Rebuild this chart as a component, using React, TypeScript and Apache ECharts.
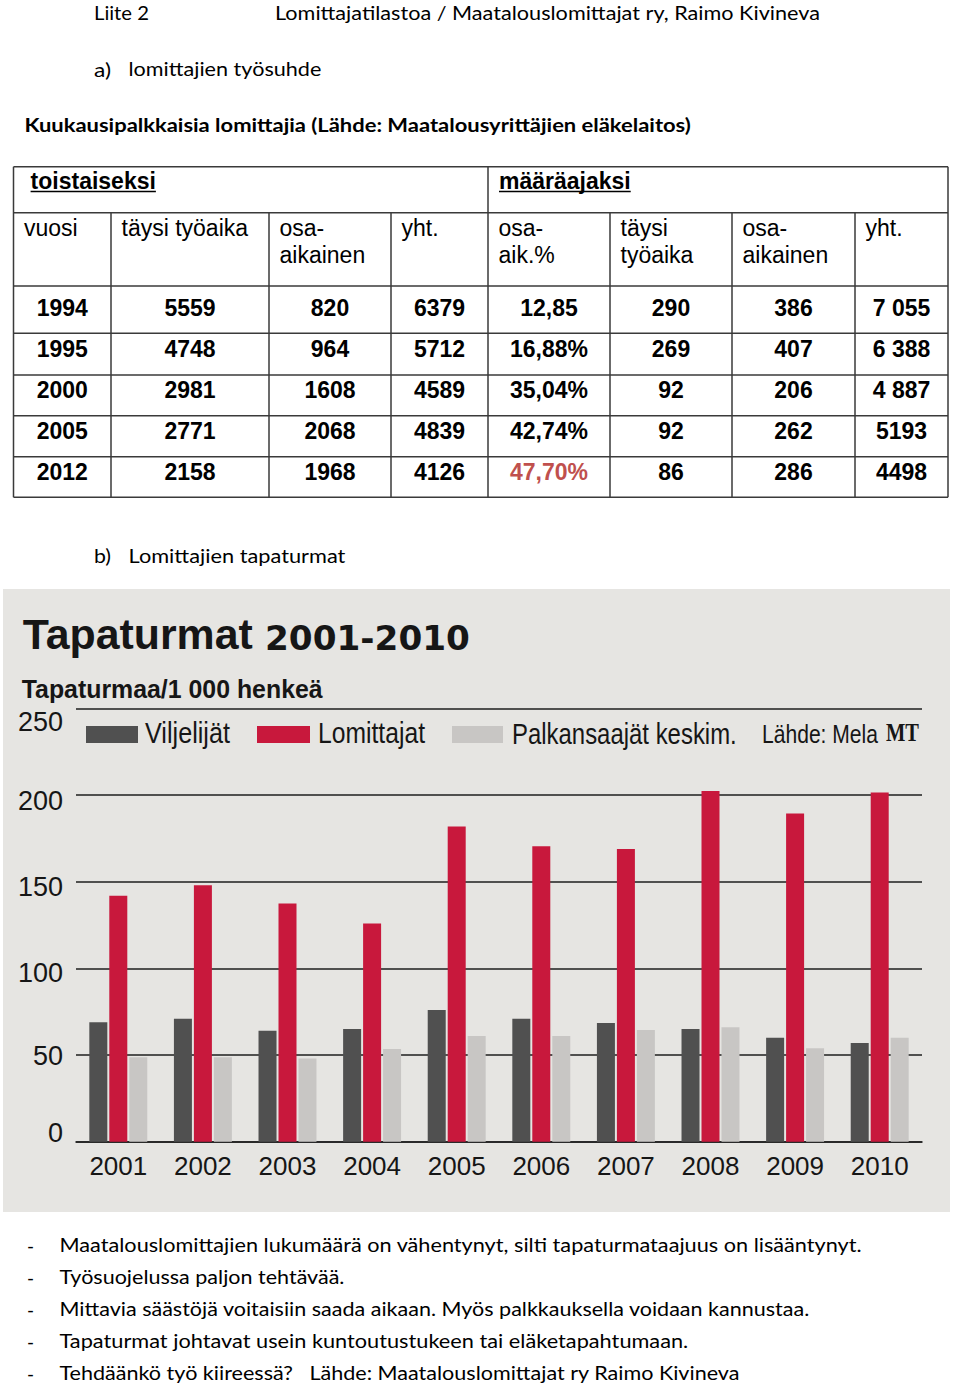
import React, { useEffect, useRef } from 'react';
import * as echarts from 'echarts';

// ---------- Chart data (Tapaturmat 2001-2010, tapaturmaa / 1 000 henkeä) ----------
const chartYears = ['2001', '2002', '2003', '2004', '2005', '2006', '2007', '2008', '2009', '2010'];
const viljelijat = [69, 71, 64, 65, 76, 71, 68.5, 65, 60, 57];
const lomittajat = [142, 148, 137.5, 126, 182, 170.5, 169, 202.5, 189.5, 201.5];
const palkansaajat = [48.7, 48.7, 48, 53.5, 61, 61, 64.5, 66, 54, 60];
const seriesNames = ['Viljelijät', 'Lomittajat', 'Palkansaajät keskim.'];

// ---------- Table data (Kuukausipalkkaisia lomittajia) ----------
const groupHeaders = ['toistaiseksi', 'määräajaksi'];
const columnHeaders = [
  ['vuosi'],
  ['täysi työaika'],
  ['osa-', 'aikainen'],
  ['yht.'],
  ['osa-', 'aik.%'],
  ['täysi', 'työaika'],
  ['osa-', 'aikainen'],
  ['yht.'],
];
const tableYears = ['1994', '1995', '2000', '2005', '2012'];
const taysiToist = ['5559', '4748', '2981', '2771', '2158'];
const osaToist = ['820', '964', '1608', '2068', '1968'];
const yhtToist = ['6379', '5712', '4589', '4839', '4126'];
const osaPct = ['12,85', '16,88%', '35,04%', '42,74%', '47,70%'];
const taysiMaar = ['290', '269', '92', '92', '86'];
const osaMaar = ['386', '407', '206', '262', '286'];
const yhtMaar = ['7 055', '6 388', '4 887', '5193', '4498'];

const bullets = [
  'Maatalouslomittajien lukumäärä on vähentynyt, silti tapaturmataajuus on lisääntynyt.',
  'Työsuojelussa paljon tehtävää.',
  'Mittavia säästöjä voitaisiin saada aikaan. Myös palkkauksella voidaan kannustaa.',
  'Tapaturmat johtavat usein kuntoutustukeen tai eläketapahtumaan.',
  'Tehdäänkö työ kiireessä?   Lähde: Maatalouslomittajat ry Raimo Kivineva',
];

// ---------- layout helpers ----------
const DOC_FONT = 'Lato';
const TAB_FONT = 'Liberation Sans';

let measureCtx: CanvasRenderingContext2D | null = null;
function textWidth(text: string, size: number, family: string, weight: string) {
  if (!measureCtx) measureCtx = document.createElement('canvas').getContext('2d');
  measureCtx!.font = `${weight} ${size}px "${family}"`;
  return measureCtx!.measureText(text).width;
}

function fitText(
  text: string, x: number, y: number, target: number, size: number,
  family: string, weight = 'normal', fill = '#000'
) {
  const w = textWidth(text, size, family, weight);
  const sx = w > 0 ? target / w : 1;
  return {
    type: 'text', x, y, scaleX: sx, z: 10,
    style: { text, fontSize: size, fontFamily: family, fontWeight: weight, fill, align: 'left', verticalAlign: 'middle' },
  };
}

function plainText(text: string, x: number, y: number, size: number, family: string, weight = 'normal', align = 'left', fill = '#000') {
  return {
    type: 'text', x, y, z: 10,
    style: { text, fontSize: size, fontFamily: family, fontWeight: weight, fill, align, verticalAlign: 'middle' },
  };
}

function hline(x1: number, x2: number, y: number, stroke = '#3a3a3a', w = 1.5) {
  return { type: 'line', z: 10, shape: { x1, y1: y, x2, y2: y }, style: { stroke, lineWidth: w } };
}
function vline(x: number, y1: number, y2: number, stroke = '#3a3a3a', w = 1.5) {
  return { type: 'line', z: 10, shape: { x1: x, y1, x2: x, y2 }, style: { stroke, lineWidth: w } };
}

export default function App() {
  const ref = useRef<HTMLDivElement>(null);

  useEffect(() => {
    const el = ref.current;
    if (!el) return;
    const chart = echarts.init(el, null, { renderer: 'svg', width: 960, height: 1387 });

    const g: any[] = [];

    // page header
    g.push(fitText('Liite 2', 94, 13, 55, 19, DOC_FONT));
    g.push(fitText('Lomittajatilastoa / Maatalouslomittajat ry, Raimo Kivineva', 275, 13, 545, 19, DOC_FONT));
    g.push(fitText('a)', 94, 69, 17, 19, DOC_FONT));
    g.push(fitText('lomittajien työsuhde', 128.5, 69, 193, 19, DOC_FONT));
    g.push(fitText('Kuukausipalkkaisia lomittajia (Lähde: Maatalousyrittäjien eläkelaitos)', 24.5, 125, 667, 19, DOC_FONT, 'bold'));

    // table
    const colX = [13.5, 111, 269, 391, 488, 610, 732, 855, 948];
    const rowY = [166.7, 212.7, 286, 333.3, 375, 415.7, 456.7, 497.3];
    rowY.forEach((y) => g.push(hline(colX[0], colX[8], y)));
    g.push(vline(colX[0], rowY[0], rowY[7]));
    g.push(vline(colX[8], rowY[0], rowY[7]));
    g.push(vline(colX[4], rowY[0], rowY[7]));
    [1, 2, 3, 5, 6, 7].forEach((i) => g.push(vline(colX[i], rowY[1], rowY[7])));

    // group headers (bold, underlined)
    const ghX = [30.6, 499];
    groupHeaders.forEach((t, i) => {
      g.push(plainText(t, ghX[i], 181, 23, TAB_FONT, 'bold'));
      const w = textWidth(t, 23, TAB_FONT, 'bold');
      g.push(hline(ghX[i], ghX[i] + w, 191.5, '#000', 1.6));
    });

    // column headers
    columnHeaders.forEach((lines, i) => {
      lines.forEach((t, j) => {
        g.push(plainText(t, colX[i] + 10.5, 227.5 + j * 27, 23, TAB_FONT));
      });
    });

    // data rows
    const dataCols = [tableYears, taysiToist, osaToist, yhtToist, osaPct, taysiMaar, osaMaar, yhtMaar];
    const textRowY = [308.3, 349.2, 390.2, 430.8, 471.5];
    dataCols.forEach((col, c) => {
      const cx = (colX[c] + colX[c + 1]) / 2;
      col.forEach((t, r) => {
        const red = c === 4 && r === 4;
        g.push(plainText(t, cx, textRowY[r], 23, TAB_FONT, 'bold', 'center', red ? '#c0504d' : '#000'));
      });
    });

    // section b
    g.push(fitText('b)', 94, 555.5, 17, 19, DOC_FONT));
    g.push(fitText('Lomittajien tapaturmat', 128.5, 555.5, 217, 19, DOC_FONT));

    // newspaper chart background
    g.push({ type: 'rect', z: -10, shape: { x: 3, y: 589, width: 947, height: 623 }, style: { fill: '#e6e5e2' } });

    // chart title
    g.push(fitText('Tapaturmat', 22.7, 635, 230, 42, 'Liberation Sans', 'bold', '#161616'));
    g.push(fitText('2001-2010', 265, 638, 205, 34, 'DejaVu Sans', 'bold', '#161616'));
    g.push(fitText('Tapaturmaa/1 000 henkeä', 21.7, 689, 301, 26, 'Liberation Sans', 'bold', '#161616'));

    // legend
    const swatches = [
      { x: 86, w: 52, color: '#505050' },
      { x: 257, w: 53, color: '#c8183c' },
      { x: 452, w: 51, color: '#c8c6c4' },
    ];
    swatches.forEach((s) => g.push({ type: 'rect', z: 10, shape: { x: s.x, y: 726, width: s.w, height: 17 }, style: { fill: s.color } }));
    const legX = [145, 318, 512];
    const legW = [85, 107, 225];
    seriesNames.forEach((n, i) => g.push(fitText(n, legX[i], 733, legW[i], 30, 'Liberation Sans', 'normal', '#161616')));
    g.push(fitText('Lähde: Mela', 762, 734, 116, 26, 'Liberation Sans', 'normal', '#161616'));
    g.push(fitText('MT', 886, 732, 33, 26, 'Liberation Serif', 'bold', '#161616'));

    // bullets
    const bulletW = [803, 285, 751, 629, 681];
    bullets.forEach((t, i) => {
      const y = 1245 + i * 32;
      g.push(plainText('-', 27, y, 19, DOC_FONT));
      g.push(fitText(t, 59.5, y, bulletW[i], 19, DOC_FONT));
    });

    const yRich: Record<string, any> = {
      r0: { fontSize: 27, fontFamily: 'Liberation Sans', color: '#161616', padding: [0, 0, 18, 0] },
      r50: { fontSize: 27, fontFamily: 'Liberation Sans', color: '#161616', padding: [2, 0, 0, 0] },
      r100: { fontSize: 27, fontFamily: 'Liberation Sans', color: '#161616', padding: [10, 0, 0, 0] },
      r150: { fontSize: 27, fontFamily: 'Liberation Sans', color: '#161616', padding: [10, 0, 0, 0] },
      r200: { fontSize: 27, fontFamily: 'Liberation Sans', color: '#161616', padding: [12, 0, 0, 0] },
      r250: { fontSize: 27, fontFamily: 'Liberation Sans', color: '#161616', padding: [26, 0, 0, 0] },
    };

    chart.setOption({
      animation: false,
      backgroundColor: '#ffffff',
      grid: { left: 76, right: 38, top: 708.6, bottom: 245.3, containLabel: false },
      xAxis: {
        type: 'category',
        data: chartYears,
        boundaryGap: true,
        axisLine: { show: true, lineStyle: { color: '#1e1e1e', width: 1.6 } },
        axisTick: { show: false },
        axisLabel: { fontSize: 26, fontFamily: 'Liberation Sans', color: '#161616', margin: 11 },
        splitLine: { show: false },
      },
      yAxis: {
        type: 'value',
        min: 0,
        max: 250,
        interval: 50,
        axisLine: { show: false },
        axisTick: { show: false },
        axisLabel: {
          margin: 13,
          formatter: (v: number) => `{r${v}|${v}}`,
          rich: yRich,
        },
        splitLine: { show: true, lineStyle: { color: '#1e1e1e', width: 1.6 } },
      },
      series: [
        { name: seriesNames[0], type: 'bar', data: viljelijat, barWidth: 18, barGap: '11%', itemStyle: { color: '#505050' } },
        { name: seriesNames[1], type: 'bar', data: lomittajat, barWidth: 18, barGap: '11%', itemStyle: { color: '#c8183c' } },
        { name: seriesNames[2], type: 'bar', data: palkansaajat, barWidth: 18, barGap: '11%', itemStyle: { color: '#c8c6c4' } },
      ],
      graphic: { elements: g },
    });

    return () => chart.dispose();
  }, []);

  return (
    <div
      ref={ref}
      style={{ position: 'absolute', left: 0, top: 0, width: 960, height: 1387, background: '#fff' }}
    />
  );
}
